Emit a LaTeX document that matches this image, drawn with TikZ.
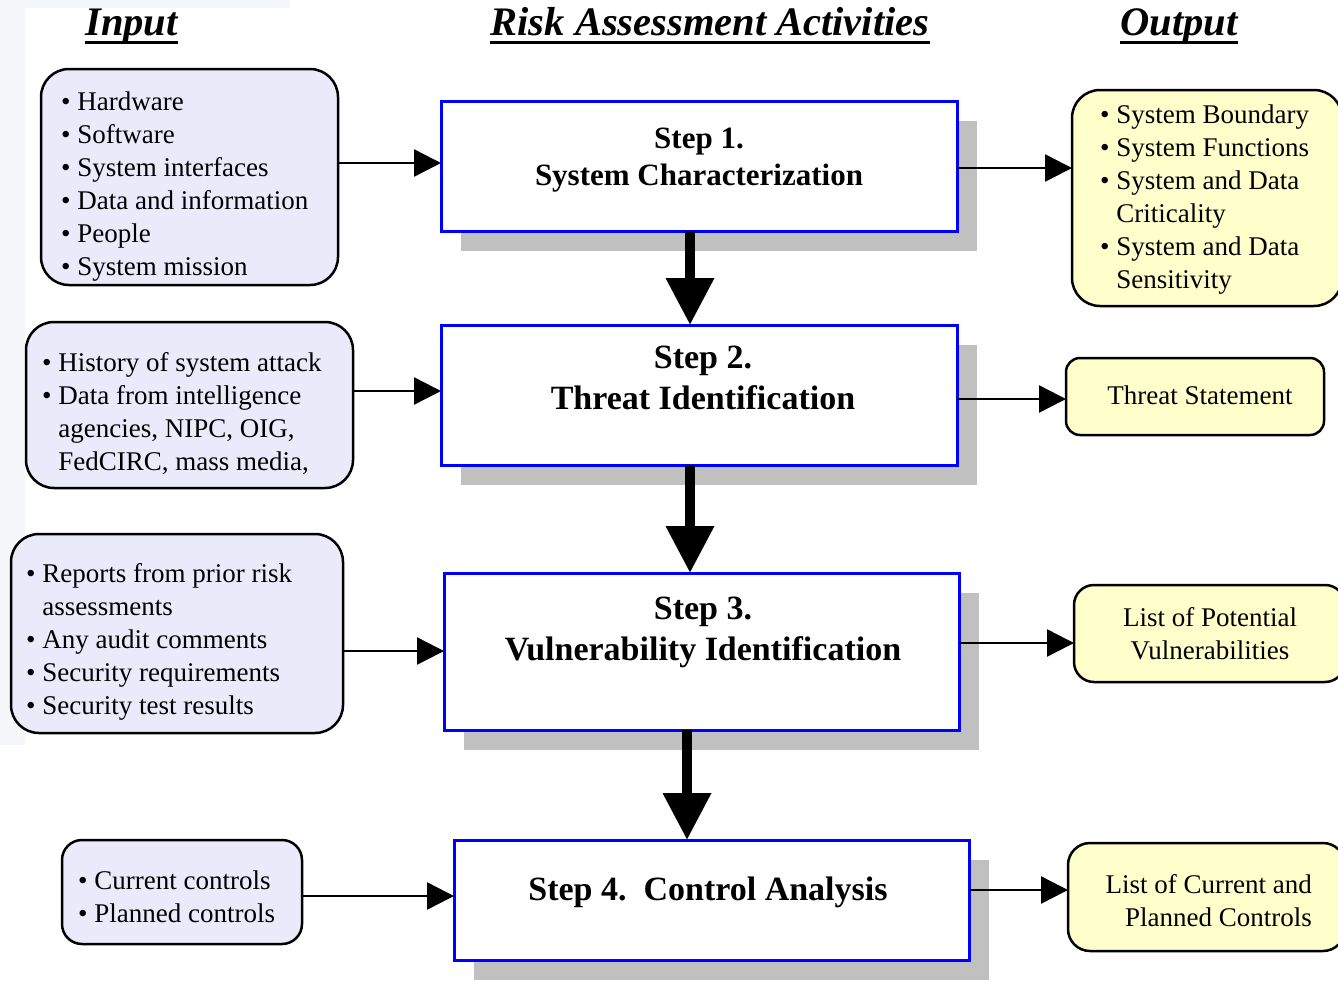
\documentclass[tikz,border=0pt]{standalone}
\usepackage{fontspec}
\setmainfont{Liberation Serif}
\usetikzlibrary{arrows.meta,shadows}
\definecolor{inblue}{RGB}{234,234,250}
\definecolor{outyel}{RGB}{255,255,204}
\definecolor{shgray}{RGB}{192,192,192}
\definecolor{stepblue}{RGB}{0,0,255}
\definecolor{faint}{RGB}{246,247,250}
\newcommand\bul{\textbullet\ }
\newcommand\hang{\phantom{\textbullet\ }}
\tikzset{
  boxbase/.style={rectangle, inner sep=0pt, outer sep=0pt, line width=2.5pt, draw=black},
  inbox/.style={boxbase, fill=inblue, rounded corners=#1},
  inbox/.default=28pt,
  outbox/.style={boxbase, fill=outyel, rounded corners=#1},
  outbox/.default=28pt,
  stepbox/.style={rectangle, inner sep=0pt, outer sep=0pt, draw=stepblue, line width=3pt, fill=white,
    drop shadow={shadow xshift=20pt, shadow yshift=-20pt, fill=shgray, opacity=1}},
  txt/.style={font=\fontsize{27}{33}\selectfont, align=left, inner sep=0pt},
  ctxt/.style={font=\fontsize{27}{33}\selectfont, align=center, inner sep=0pt},
  rtxt/.style={font=\fontsize{27}{33}\selectfont, align=right, inner sep=0pt},
  stxt/.style={font=\bfseries\fontsize{34}{41}\selectfont, align=center, inner sep=0pt},
  stxtsmall/.style={font=\bfseries\fontsize{31}{37}\selectfont, align=center, inner sep=0pt},
  hdr/.style={font=\bfseries\itshape\fontsize{40.5}{46}\selectfont, inner sep=0pt, anchor=base},
  uline/.style={line width=3pt},
  sidearrow/.style={line width=2.5pt, -{Triangle[length=27pt,width=27pt]}},
  downarrow/.style={line width=10pt, -{Triangle[length=47pt,width=46pt]}},
}
\begin{document}
\begin{tikzpicture}[x=1pt,y=-1pt]
\useasboundingbox (0,0) rectangle (1338,980);
\clip (0,0) rectangle (1338,980);
\fill[white] (0,0) rectangle (1338,980);
% faint background marks
\fill[faint] (0,0) rectangle (290,8);
\fill[faint] (0,8) rectangle (25,745);

% headers
\node[hdr] (hin) at (131.5,35) {Input};
\node[hdr] (hra) at (710,35) {Risk Assessment Activities};
\node[hdr] (hout) at (1179,35) {Output};
\draw[uline] ([yshift=-7pt]hin.base west) -- ([yshift=-7pt]hin.base east);
\draw[uline] ([yshift=-7pt]hra.base west) -- ([yshift=-7pt]hra.base east);
\draw[uline] ([yshift=-7pt]hout.base west) -- ([yshift=-7pt]hout.base east);

% input boxes
\node[inbox, minimum width=297pt, minimum height=216pt] (in1) at (189.5,177) {};
\node[inbox, minimum width=327pt, minimum height=166pt] (in2) at (189.5,405) {};
\node[inbox, minimum width=332pt, minimum height=199pt] (in3) at (177,633.5) {};
\node[inbox=20pt, minimum width=240pt, minimum height=104pt] (in4) at (182,892) {};

\node[txt, anchor=west] (tin1) at (61,187) {\bul Hardware\\ \bul Software\\ \bul System interfaces\\ \bul Data and information\\ \bul People\\ \bul System mission};
\node[txt, anchor=west] (tin2) at (42,414) {\bul History of system attack\\ \bul Data from intelligence\\ \hang agencies, NIPC, OIG,\\ \hang FedCIRC, mass media,};
\node[txt, anchor=west] (tin3) at (26,642) {\bul Reports from prior risk\\ \hang assessments\\ \bul Any audit comments\\ \bul Security requirements\\ \bul Security test results};
\node[txt, anchor=west] (tin4) at (78,897) {\bul Current controls\\ \bul Planned controls};

% step boxes
\node[stepbox, minimum width=516pt, minimum height=130pt] (s1) at (699,166) {};
\node[stepbox, minimum width=516pt, minimum height=140pt] (s2) at (699,395) {};
\node[stepbox, minimum width=515pt, minimum height=157pt] (s3) at (701.5,651.5) {};
\node[stepbox, minimum width=515pt, minimum height=120pt] (s4) at (711.5,900) {};

\node[stxtsmall] (ts1) at (699,160) {Step 1.\\ System Characterization};
\node[stxt] (ts2) at (703,378) {Step 2.\\ Threat Identification};
\node[stxt] (ts3) at (703,632) {Step 3.\\ Vulnerability Identification};
\node[stxt] (ts4) at (708,892) {Step 4.\ \ Control Analysis};

% output boxes
\node[outbox, minimum width=270pt, minimum height=216pt] (o1) at (1207,198) {};
\node[outbox=14pt, minimum width=258pt, minimum height=77pt] (o2) at (1195,396.5) {};
\node[outbox=20pt, minimum width=271pt, minimum height=97pt] (o3) at (1209.5,633.5) {};
\node[outbox=22pt, minimum width=277pt, minimum height=108pt] (o4) at (1206.5,897) {};

\node[txt, anchor=west] (to1) at (1100,200) {\bul System Boundary\\ \bul System Functions\\ \bul System and Data\\ \hang Criticality\\ \bul System and Data\\ \hang Sensitivity};
\node[ctxt] (to2) at (1200,395) {Threat Statement};
\node[ctxt] (to3) at (1210,634) {List of Potential\\ Vulnerabilities};
\node[rtxt, anchor=east] (to4) at (1312,901) {List of Current and\\ Planned Controls};

% arrow levels
\coordinate (a1) at (0,163);
\coordinate (a2) at (0,391);
\coordinate (a3) at (0,651);
\coordinate (a4) at (0,896);
\coordinate (b1) at (0,168);
\coordinate (b2) at (0,399);
\coordinate (b3) at (0,643);
\coordinate (b4) at (0,890);
\coordinate (d1) at (690,0);
\coordinate (d2) at (690,0);
\coordinate (d3) at (687,0);

\draw[sidearrow] (in1.east |- a1) -- (s1.west |- a1);
\draw[sidearrow] (in2.east |- a2) -- (s2.west |- a2);
\draw[sidearrow] (in3.east |- a3) -- (s3.west |- a3);
\draw[sidearrow] (in4.east |- a4) -- (s4.west |- a4);

\draw[sidearrow] (s1.east |- b1) -- (o1.west |- b1);
\draw[sidearrow] (s2.east |- b2) -- (o2.west |- b2);
\draw[sidearrow] (s3.east |- b3) -- (o3.west |- b3);
\draw[sidearrow] (s4.east |- b4) -- (o4.west |- b4);

\draw[downarrow] (s1.south -| d1) -- (s2.north -| d1);
\draw[downarrow] (s2.south -| d2) -- (s3.north -| d2);
\draw[downarrow] (s3.south -| d3) -- (s4.north -| d3);
\end{tikzpicture}
\end{document}
